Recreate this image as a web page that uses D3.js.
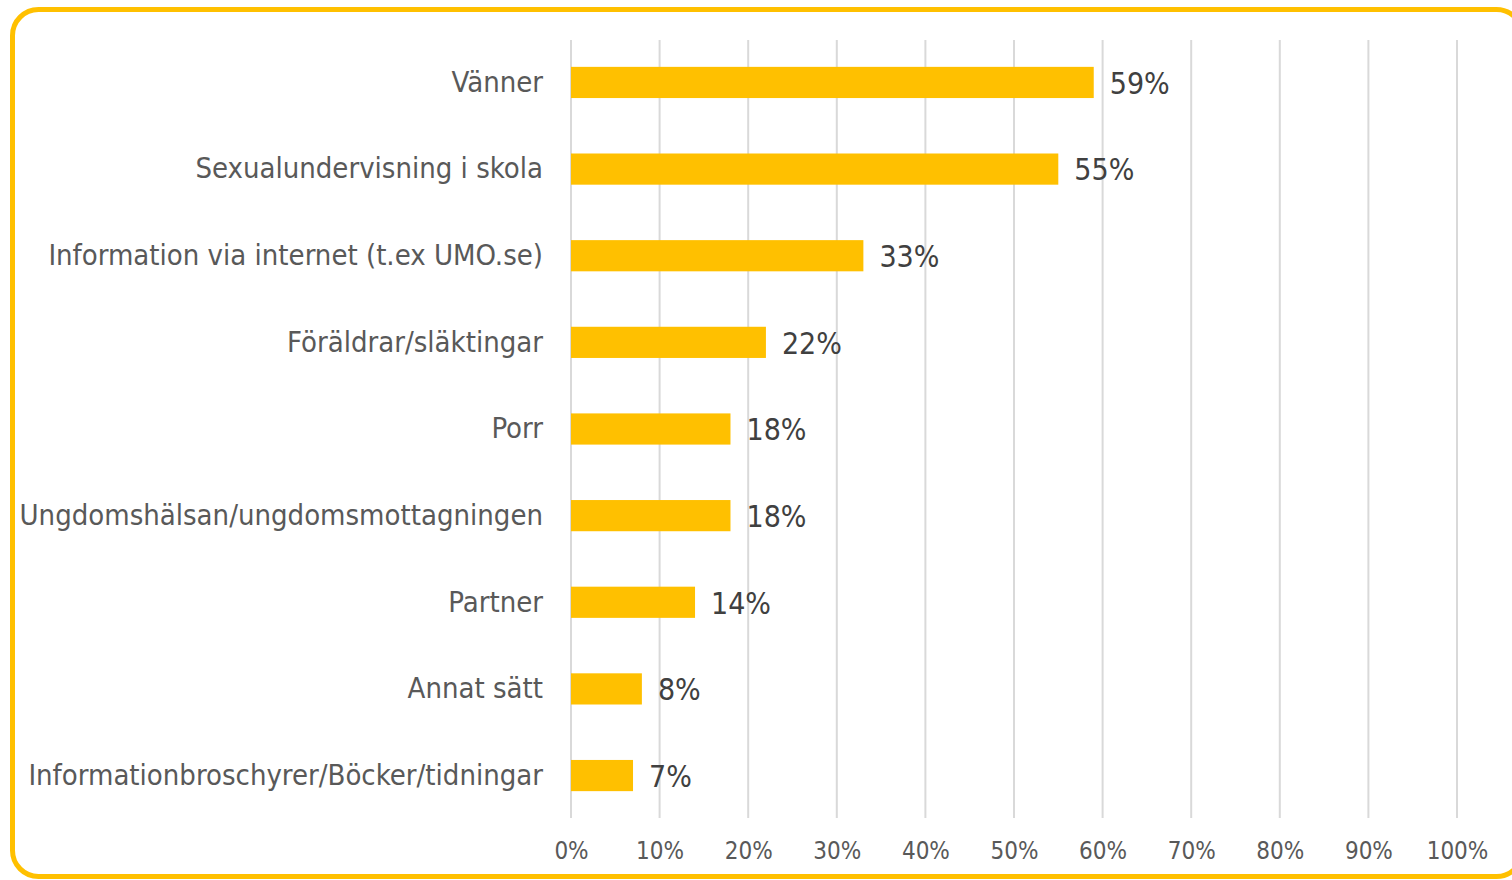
<!DOCTYPE html>
<html>
<head>
<meta charset="utf-8">
<script src="https://cdn.jsdelivr.net/npm/d3@7"></script>
<style>
  body { margin: 0; background: #fff; }
  svg { display: block; }
</style>
</head>
<body>
<div id="chart"></div>
<script>
const categories = [
    'Vänner',
    'Sexualundervisning i skola',
    'Information via internet (t.ex UMO.se)',
    'Föräldrar/släktingar',
    'Porr',
    'Ungdomshälsan/ungdomsmottagningen',
    'Partner',
    'Annat sätt',
    'Informationbroschyrer/Böcker/tidningar'
];
const values = [59, 55, 33, 22, 18, 18, 14, 8, 7];
const xTicks = [0, 10, 20, 30, 40, 50, 60, 70, 80, 90, 100];

const width = 1512;
const height = 880;
const fontFamily = '"DejaVu Sans Condensed", "Liberation Sans", sans-serif';

const svg = d3.select('#chart').append('svg')
    .attr('width', width)
    .attr('height', height);

// rounded yellow frame
svg.append('rect')
    .attr('x', 12.5)
    .attr('y', 9.5)
    .attr('width', 1510)
    .attr('height', 867)
    .attr('rx', 26)
    .attr('fill', '#fff')
    .attr('stroke', '#FFC000')
    .attr('stroke-width', 5);

const x = d3.scaleLinear().domain([0, 100]).range([571, 1457]);
const y = d3.scaleBand().domain(categories).range([40, 818]).paddingInner(0.64).paddingOuter(0.31);

// vertical gridlines
svg.append('g')
    .selectAll('line')
    .data(xTicks)
    .join('line')
    .attr('x1', d => x(d))
    .attr('x2', d => x(d))
    .attr('y1', 40)
    .attr('y2', 818)
    .attr('stroke', '#d9d9d9')
    .attr('stroke-width', 2);

// x axis labels
const xAxis = svg.append('g')
    .attr('transform', 'translate(0,818)')
    .call(d3.axisBottom(x).tickValues(xTicks).tickFormat(d => d + '%').tickSize(0).tickPadding(24));
xAxis.select('.domain').remove();
xAxis.selectAll('text')
    .attr('font-family', fontFamily)
    .attr('font-size', 24)
    .attr('fill', '#595959');

// bars
svg.append('g')
    .selectAll('rect')
    .data(values)
    .join('rect')
    .attr('x', x(0))
    .attr('y', (d, i) => y(categories[i]))
    .attr('width', d => x(d) - x(0))
    .attr('height', y.bandwidth())
    .attr('fill', '#FFC000');

// category labels
const yAxis = svg.append('g')
    .attr('transform', 'translate(' + x(0) + ',0)')
    .call(d3.axisLeft(y).tickSize(0).tickPadding(28));
yAxis.select('.domain').remove();
yAxis.selectAll('text')
    .attr('font-family', fontFamily)
    .attr('font-size', 29)
    .attr('fill', '#595959');

// value labels
svg.append('g')
    .selectAll('text')
    .data(values)
    .join('text')
    .attr('x', d => x(d) + 16)
    .attr('y', (d, i) => y(categories[i]) + y.bandwidth() / 2)
    .attr('dy', '0.38em')
    .attr('font-family', fontFamily)
    .attr('font-size', 30)
    .attr('fill', '#404040')
    .text(d => d + '%');
</script>
</body>
</html>
